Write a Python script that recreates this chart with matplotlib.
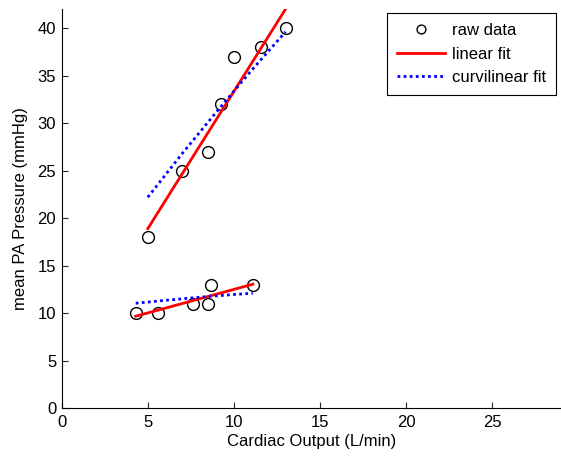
import numpy as np
import matplotlib.pyplot as plt

plt.rcParams['font.family'] = ['Liberation Sans', 'DejaVu Sans']

# raw data: two groups (cardiac output L/min, mean PA pressure mmHg)
co_high = np.array([5.0, 7.0, 8.5, 9.25, 10.0, 11.6, 13.0])
pap_high = np.array([18, 25, 27, 32, 37, 38, 40])
co_low = np.array([4.3, 5.6, 7.6, 8.5, 8.7, 11.1])
pap_low = np.array([10, 10, 11, 11, 13, 13])

# curvilinear fit curves
curv_co_high = [5.0, 7.0, 9.0, 11.0, 13.0]
curv_pap_high = [22.2, 26.8, 31.2, 35.5, 39.6]
curv_co_low = [4.3, 6.0, 8.0, 10.0, 11.1]
curv_pap_low = [11.05, 11.35, 11.68, 11.97, 12.1]

fs = 12

fig = plt.figure(figsize=(5.61, 4.59), dpi=100)
ax = fig.add_axes([0.110, 0.1105, 0.890, 0.8699])

# raw data
ax.plot(co_high, pap_high, 'o', mfc='none', mec='black', ms=8.5, mew=1.0, label='raw data')
ax.plot(co_low, pap_low, 'o', mfc='none', mec='black', ms=8.5, mew=1.0)

# linear fits
for x, y in [(co_high, pap_high), (co_low, pap_low)]:
    k, b = np.polyfit(x, y, 1)
    xs = np.array([x.min(), x.max()])
    ax.plot(xs, k * xs + b, color='red', lw=2,
            label='linear fit' if x is co_high else None)

# curvilinear fits
ax.plot(curv_co_high, curv_pap_high, color='blue', lw=2, ls=(0, (1, 1.2)), label='curvilinear fit')
ax.plot(curv_co_low, curv_pap_low, color='blue', lw=2, ls=(0, (1, 1.2)))

ax.set_xlim(0, 29)
ax.set_ylim(0, 42)
ax.set_xticks(range(0, 30, 5))
ax.set_yticks(range(0, 41, 5))
ax.spines['top'].set_visible(False)
ax.spines['right'].set_visible(False)
ax.tick_params(direction='in', length=4, labelsize=fs, color='#262626')
ax.tick_params(axis='x', pad=5)
ax.tick_params(axis='y', pad=4)
ax.set_xlabel('Cardiac Output (L/min)', fontsize=fs, labelpad=3)
ax.set_ylabel('mean PA Pressure (mmHg)', fontsize=fs, labelpad=7)

leg = ax.legend(loc='upper right', bbox_to_anchor=(0.99, 0.99), borderaxespad=0,
                fancybox=False, edgecolor='black', framealpha=1, fontsize=fs,
                handlelength=2.9, numpoints=1, borderpad=0.6, labelspacing=0.52,
                markerscale=0.75, handletextpad=0.4)
leg.get_frame().set_linewidth(0.8)

plt.savefig('out.png', dpi=100)
